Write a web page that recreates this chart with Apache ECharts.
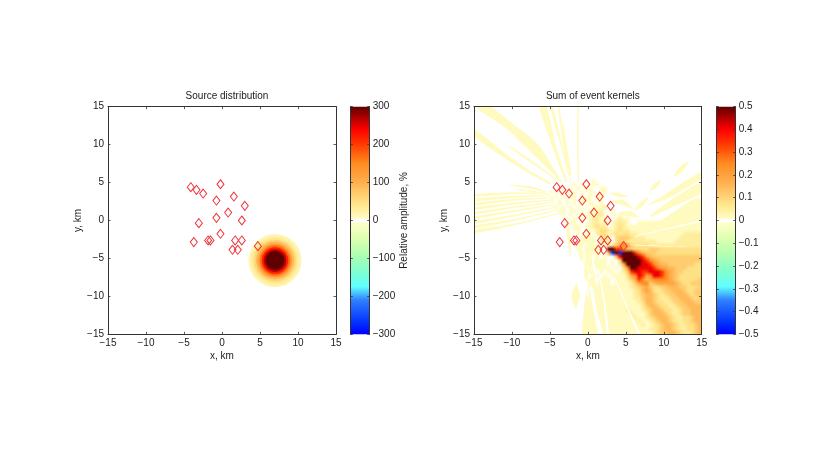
<!DOCTYPE html>
<html>
<head>
<meta charset="utf-8">
<style>
  html, body { margin: 0; background: #fff; }
  #chart { width: 830px; height: 458px; filter: blur(0.35px); }
</style>
<script src="https://cdn.jsdelivr.net/npm/echarts@6/dist/echarts.min.js"></script>
</head>
<body>
<div id="chart"></div>
<script>
const event_x = [-4.11, -3.36, -2.48, -0.2, -0.73, 1.56, 3.0, 0.81, -0.73, 2.61, -3.05, -0.2, -3.71, -1.83, -1.52, 1.73, 2.61, 1.38, 2.08, 4.72]
const event_y = [4.39, 4.04, 3.55, 4.78, 2.63, 3.16, 1.93, 1.05, 0.35, 0, -0.35, -1.75, -2.85, -2.63, -2.63, -2.63, -2.63, -3.86, -3.86, -3.38]

const source_centre = [6.98, -5.28]
const source_radii = [3.5, 3.25, 3, 2.75, 2.5, 2.25, 2, 1.75, 1.5, 1.25]
const source_values = [15, 25, 40, 62, 90, 125, 170, 220, 265, 300]

// cell codes for the kernel map
const kernel_levels = { a: 0.012, b: 0.05, c: 0.08, d: 0.115, e: 0.15, f: 0.19, g: 0.25, h: 0.34, i: 0.41, j: 0.5, n: -0.03, z: -0.45 }

// kernel map, 0.5 km cells, first row is y = 14.75, first column x = -14.75
// spaces only keep the columns readable, dots are empty cells
const kernel_rows = [
  '.......... .......... .......... .......... .......... ..........',
  '.......... .......... .......... .......... .......... ..........',
  '.......... .......... .......... .......... .......... ..........',
  '.......... .......... .......... .......... .......... ..........',
  '.......... .......... .......... .......... .......... ..........',
  '.......... .......... .......... .......... .......... ..........',
  '.......... .......... .......... .......... .......... ..........',
  '.......... .......... .......... .......... .......... ..........',
  '.......... .......... .......... .......... .......... ..........',
  '.......... .......... .......... .......... .......... ..........',
  '.......... .......... .......... .......... .......... ..........',
  '.......... .......... .......... .......... .......... ..........',
  '.......... .......... .......... .......... .......... ..........',
  '.......... .......... .......... .......... .......... ..........',
  '.......... .......... .......... .......... .......... ..........',
  '.......... .......... .......... .......... .......... ..........',
  '.......... .......... .......... .......... .......... ..........',
  '.......... .......... .......... .......... .......... ..........',
  '.......... .......... .......... .......... .......... ..........',
  '.......... .......... .......... .a........ .......... ..........',
  '.......... .......... ......a.a. .aa....... .......... ..........',
  '.......... .......... ...a.a.a.a a..aa..... .......... ..........',
  '.......... .......... a.a.a.a.a. aa.aa..... .......... ..........',
  '.......... .......... .a.a.aa.a. a.aa...... .......... ..........',
  '.......... .......... a.a.a.a.aa a.aa...... .......... ..........',
  '.......... .......... ..a.a.a.a. aa.a...... .......... ..........',
  '.......... .......... .a.a.a.a.a .aaab..... .......... ..........',
  '.......... .......... ..aa.aa.a. aaab..a... .......... ..........',
  '.......... .......... ...a.a.a.a aabba.a.a. .......... ..........',
  '.......... .......... ....a.a.a. abbaa..aba a......... ..........',
  '.......... .......... .....aa.a. abbab.abbb a..aaaaaaa aaaaaaaaaa',
  '.......... .......... ......aa.n nbcbb.abcb aaaaaaaaaa aaaaaaaaaa',
  '.......... .......... ......aa.. nabccbabcb baaaaaaaaa aaaaaaaaaa',
  '.......... .......... .......a.a n.bccabcbc cbbaaaaaaa aaaaabbbbb',
  '.......... .......... ........aa an.bcb.cdd dcbbbaaaaa aaaabbbbbb',
  '.......... .......... ........aa an.bbb.cdd cbbbbbbbaa aaabbbbbbb',
  '.......... .......... .......aa. nan.aacdfg fdccccbbbb bbbbbbbbbb',
  '.......... .......... .......a.a nana.jjhhe edccccdddc cccccccccc',
  '.......... .......... ........a. anan.fzjzj jjhgedddcc cccccccccc',
  '.......... .......... ........a. a.a.a..eij jjjihfeddd dddddddddd',
  '.......... .......... .........a aaana.a.dj jjjjihgfed dddddddddd',
  '.......... .......... .........a aanaa.a.bf jjjjiihgfe edddddddcc',
  '.......... .......... .......... a.anaa.a.c gjjiiiihgf feedddcccc',
  '.......... .......... .......... aa.a.aa.ab dhiihhiiih gfeddccccc',
  '.......... .......... .......... .aa.a.aaaa cfgihfgiih gfedcccccc',
  '.......... .......... .......... aa.aaa.aaa bdfhgefggg gfedcccccd',
  '.......... .......... .......... aaaaaa.aaa abdfggdeff fffedccddd',
  '.......... .......... .......... aaaaaaaaaa abcdefdccd deeeddcccd',
  '.......... .......... .......... aaaaaaaaaa aabcefecbc ddeeedccdd',
  '.......... .......... .......... aaaaaaaaaa aabcdeedcb cddeeedcdd',
  '.......... .......... .......... aaaaaaaaaa aabbdeedcb bcddeeedcd',
  '.......... .......... .......... aaaaaaaaaa aaabceedcc bbcddeeedd',
  '.......... .......... .......... aaaaaaaaaa aaaabdeedc cbbcddeeee',
  '.......... .......... .......... aaaaaaaaaa baaabcdeed ccbbcddeee',
  '.......... .......... .......... aaaaaaaaaa abaaabdeee dcbbcddeee',
  '.......... .......... .......... aaaaaaaaaa aabaabcdee edcbbccdee',
  '.......... .......... .......... aaaaaaaaaa aaabaabcde edcbbccdee',
  '.......... .......... .......... aaaaaaaaaa aaaabaabcd eedcbbccde',
  '.......... .......... .......... aaaaaaaaaa aaaaaabbcd eedcbbccde',
  '.......... .......... .......... aaaaaaaaaa aaaaaaabcd deedcbbcde'
]

// pale streaks of the kernel, each a run of [x, y, width] in km
const pale_streaks = [
  [[-14.3, 15.3, 1.1], [-10.5, 12.6, 1.0], [-7.2, 9.7, 1.4], [-4.8, 6.8, 0.6], [-3.5, 5, 0.15]],
  [[-15.3, 11.8, 0.7], [-11, 8.6, 0.6], [-8, 6.6, 0.4], [-5, 4.9, 0.25]],
  [[-10.5, 9.9, 0.08], [-8.5, 8.5, 0.3], [-5, 6, 0.2], [-3.8, 5, 0.08]],
  [[-6, 15.3, 0.9], [-4.5, 10, 0.5], [-2.8, 5, 0.2]],
  [[-4.9, 15.3, 0.35], [-3.5, 10, 0.25], [-2.5, 6, 0.15]],
  [[-3.9, 15.3, 0.2], [-3, 9, 0.2], [-2.2, 5, 0.1]],
  [[-3.3, 13, 0.1], [-2.8, 9, 0.3], [-2.2, 6, 0.15]],
  [[-1.3, 15.3, 0.15], [-1.3, 7, 0.2], [-1.2, 5, 0.1]],
  [[-15.3, 3.3, 0.3], [-10, 3.6, 0.25], [-6, 3.6, 0.12]],
  [[-15.3, 2.7, 0.3], [-10, 3.1, 0.25], [-5.6, 3.3, 0.12]],
  [[-15.3, 2.1, 0.3], [-10, 2.7, 0.25], [-5.2, 3, 0.12]],
  [[-15.3, 1.5, 0.3], [-10, 2.2, 0.25], [-4.8, 2.7, 0.12]],
  [[-15.3, 0.9, 0.3], [-10, 1.7, 0.25], [-4.5, 2.4, 0.12]],
  [[-15.3, 0.3, 0.3], [-10, 1.2, 0.25], [-4.3, 2.1, 0.12]],
  [[-15.3, -0.3, 0.3], [-10, 0.6, 0.25], [-4, 1.8, 0.12]],
  [[-15.3, -0.9, 0.3], [-10, 0, 0.25], [-3.8, 1.4, 0.12]],
  [[-15.3, -1.5, 0.4], [-10, -0.6, 0.25], [-3.5, 1, 0.12]],
  [[-10.3, 4.7, 0.1], [-8, 4.4, 0.25], [-5.5, 3.8, 0.1]],
  [[-9.5, 4.1, 0.1], [-7, 3.8, 0.2], [-5, 3.4, 0.08]],
  [[-8, 4.6, 0.08], [-6, 3.9, 0.2], [-4.5, 2.8, 0.08]],
  [[13.3, 7.8, 0.1], [12.3, 6.8, 0.7], [11.3, 5.7, 0.1]],
  [[9.6, 5.3, 0.1], [8.9, 4.6, 0.6], [8.2, 3.9, 0.1]],
  [[8, 2.1, 0.1], [10, 3, 0.6], [12, 4.2, 0.8], [15.3, 6.2, 0.7]],
  [[8.2, 0.5, 0.2], [11, 2.2, 0.9], [15.3, 4.5, 1.2]],
  [[6, -1.5, 0.2], [10, -0.5, 1.4], [15.3, 1.6, 3]],
  [[3, 3.6, 0.1], [4, 3.4, 0.5], [5.3, 3.1, 0.1]],
  [[6.2, 1.4, 0.1], [7, 2.1, 0.6], [8, 3.1, 0.1]],
  [[3, 2.5, 0.1], [4.5, 2.4, 0.7], [6, 1.5, 0.1]],
  [[4, 0.8, 0.3], [5.5, 0.9, 0.7], [6.8, 0.4, 0.1]],
  [[-1.5, -8.3, 0.1], [-1.6, -10, 1.1], [-1.6, -11.6, 0.1]],
  [[-0.2, -9.6, 0.1], [-0.1, -12, 0.9], [-0.2, -15.3, 1]],
  [[-0.3, -5.6, 0.1], [-0.2, -7, 0.6], [-0.2, -8, 0.1]],
  [[-2.7, 0, 0.2], [-2.5, -2, 0.5], [-2.3, -4.7, 0.1]],
  [[-1, -2.6, 0.1], [-1, -4, 0.5], [-0.9, -5.4, 0.1]],
  [[-0.2, -3, 0.1], [-0.1, -4.5, 0.4], [0, -6, 0.1]]
]
const pale_level = 0.012

// white seams over the map, same form
const white_streaks = [
  [[6.2, -2.1, 0.08], [10, -1.2, 0.12], [15.3, 0, 0.16]],
  [[5.5, -3.2, 0.05], [10, -3.4, 0.08], [13, -3.5, 0.05]],
  [[0.4, -8.7, 0.35], [1, -12, 0.4], [1.8, -15.3, 0.5]],
  [[1.5, -7, 0.12], [2.2, -11, 0.2], [2.7, -15.3, 0.25]],
  [[3.5, -7.5, 0.1], [5, -11, 0.15], [6.9, -15.3, 0.2]],
  [[0.6, -5, 0.2], [1, -7, 0.18], [1.2, -8.5, 0.12]]
]

const tick_step = 5
const source_tick_step = 100
const kernel_tick_step = 0.1

// colour map, position from -1 to 1 and colour
const colour_pos = [-1, -0.9, -0.7, -0.58, -0.45, -0.3, -0.15, -0.02, -0.012, 0.012, 0.02, 0.15, 0.33, 0.5, 0.67, 0.8, 0.9, 1]
const colour_hex = ['#0000ff', '#0030ff', '#3080ff', '#60ffff', '#80ffd0', '#b0ffb0', '#e0ffb0', '#ffffc8', '#ffffff', '#ffffff', '#fffcc2', '#ffe488', '#ffb050', '#ff8c20', '#ff3a00', '#ff0000', '#b00000', '#600000']

function rgb(hex) {
  return [1, 3, 5].map(i => parseInt(hex.slice(i, i + 2), 16))
}

function colourAt(t) {
  t = Math.max(-1, Math.min(1, t))
  let i = 0
  while (i < colour_pos.length - 2 && t > colour_pos[i + 1]) i++
  const f = (t - colour_pos[i]) / (colour_pos[i + 1] - colour_pos[i])
  const a = rgb(colour_hex[i])
  const b = rgb(colour_hex[i + 1])
  return 'rgb(' + a.map((v, k) => Math.round(v + (b[k] - v) * f)).join(',') + ')'
}

// the map goes into a small raster, one pixel per cell, drawn between axis values
const kernel_raster = document.createElement('canvas')
kernel_raster.width = 60
kernel_raster.height = 60
const raster_ctx = kernel_raster.getContext('2d')
kernel_rows.forEach((row, r) => {
  row.replace(/ /g, '').split('').forEach((code, c) => {
    if (kernel_levels[code] === undefined) return
    raster_ctx.fillStyle = colourAt(kernel_levels[code] / 0.5)
    raster_ctx.fillRect(c, r, 1, 1)
  })
})

const axis_colour = '#333'
const text_colour = '#222'
const font = 'Liberation Sans'
const labelStyle = { color: text_colour, fontFamily: font, fontSize: 10, margin: 4 }
const minus = v => String(v).replace('-', '\u2212')

// one boxed cartesian panel: real axes bottom/left, bare copies top/right
function valueAxis(pos, grid, min, max, step, labelled, name, extra, margin) {
  return Object.assign({
    type: 'value', gridIndex: grid, position: pos, min: min, max: max, interval: step, z: 4,
    splitLine: { show: false },
    axisLine: { show: true, onZero: false, lineStyle: { color: axis_colour, width: 1 } },
    axisTick: { show: true, inside: true, length: 2.5, lineStyle: { color: axis_colour, width: 0.8 } },
    axisLabel: Object.assign({ show: labelled, formatter: minus }, labelStyle, margin ? { margin: margin } : {}),
    name: name, nameLocation: 'middle',
    nameTextStyle: { color: text_colour, fontFamily: font, fontSize: 10 }
  }, extra || {})
}

const panel_top = 106.7
const panel_h = 227.6
const panels = [
  { left: 108, w: 228, title: 'Source distribution' },
  { left: 474, w: 227.7, title: 'Sum of event kernels' }
]
const bars = [
  { left: 350.3, max: 300, step: source_tick_step, name: 'Relative amplitude, %' },
  { left: 716.3, max: 0.5, step: kernel_tick_step, name: '' }
]

const grids = []
const xAxes = []
const yAxes = []
const titles = []
panels.forEach((p, i) => {
  grids.push({ left: p.left, top: panel_top, width: p.w, height: panel_h })
  xAxes.push(valueAxis('bottom', i, -15, 15, tick_step, true, 'x, km', { nameGap: 17 }))
  xAxes.push(valueAxis('top', i, -15, 15, tick_step, false, ''))
  yAxes.push(valueAxis('left', i, -15, 15, tick_step, true, 'y, km', { nameGap: 19, nameRotate: 90 }))
  yAxes.push(valueAxis('right', i, -15, 15, tick_step, false, ''))
  titles.push({
    text: p.title, left: p.left + p.w / 2, top: 86, textAlign: 'center',
    textStyle: { color: text_colour, fontFamily: font, fontSize: 10, fontWeight: 'normal' }
  })
})
bars.forEach((b, i) => {
  const g = i + 2
  grids.push({ left: b.left, top: panel_top, width: 19.4, height: panel_h })
  xAxes.push({ type: 'value', gridIndex: g, position: 'bottom', min: 0, max: 1, show: false })
  xAxes.push({ type: 'value', gridIndex: g, position: 'top', min: 0, max: 1, show: false })
  yAxes.push(valueAxis('right', g, -b.max, b.max, b.step, true, b.name, { nameGap: 24, nameRotate: 90 }, 3))
  yAxes.push(valueAxis('left', g, -b.max, b.max, b.step, false, ''))
})

function renderSource(params, api) {
  const c = api.coord([api.value(0), api.value(1)])
  const r = api.size([api.value(2), 0])[0]
  return { type: 'circle', shape: { cx: c[0], cy: c[1], r: r }, style: { fill: colourAt(api.value(3) / 300) } }
}

function renderKernel(params, api) {
  const a = api.coord([api.value(0), api.value(1)])
  const b = api.coord([api.value(2), api.value(3)])
  return { type: 'image', style: { image: kernel_raster, x: a[0], y: a[1], width: b[0] - a[0], height: b[1] - a[1] } }
}

// turn a run of [x, y, width] into a tapered polygon through the axis scales
function streakShape(run, api, fill) {
  const pts = run.map(p => api.coord([p[0], p[1]]))
  const left = []
  const right = []
  run.forEach((p, i) => {
    const a = pts[Math.max(i - 1, 0)]
    const b = pts[Math.min(i + 1, pts.length - 1)]
    const len = Math.hypot(b[0] - a[0], b[1] - a[1])
    const half = api.size([p[2], 0])[0] / 2
    const nx = -(b[1] - a[1]) / len * half
    const ny = (b[0] - a[0]) / len * half
    left.push([pts[i][0] + nx, pts[i][1] + ny])
    right.unshift([pts[i][0] - nx, pts[i][1] - ny])
  })
  return { type: 'polygon', shape: { points: left.concat(right), smooth: 0.3 }, style: { fill: fill } }
}

function renderPale(params, api) {
  return streakShape(pale_streaks[params.dataIndex], api, colourAt(pale_level / 0.5))
}

function renderWhite(params, api) {
  return streakShape(white_streaks[params.dataIndex], api, '#fff')
}

function renderBar(params, api) {
  const a = api.coord([0, api.value(1)])
  const b = api.coord([1, api.value(0)])
  const stops = colour_pos.map((p, i) => ({ offset: (p + 1) / 2, color: colour_hex[i] }))
  return {
    type: 'rect', shape: { x: a[0], y: a[1], width: b[0] - a[0], height: b[1] - a[1] },
    style: { fill: new echarts.graphic.LinearGradient(0, 1, 0, 0, stops) }
  }
}

function eventSeries(axis) {
  return {
    type: 'scatter', xAxisIndex: axis, yAxisIndex: axis, z: 5,
    symbol: 'diamond', symbolSize: [7, 9],
    itemStyle: { color: 'transparent', borderColor: '#f03038', borderWidth: 1, opacity: 1 },
    data: event_x.map((x, i) => [x, event_y[i]])
  }
}

const option = {
  animation: false,
  backgroundColor: '#fff',
  title: titles,
  grid: grids,
  xAxis: xAxes,
  yAxis: yAxes,
  series: [
    {
      type: 'custom', xAxisIndex: 0, yAxisIndex: 0, clip: true, renderItem: renderSource,
      data: source_radii.map((r, i) => [source_centre[0], source_centre[1], r, source_values[i]])
    },
    eventSeries(0),
    { type: 'custom', xAxisIndex: 2, yAxisIndex: 2, clip: true, z: 1, renderItem: renderPale, data: pale_streaks.map((s, i) => [s[0][0], s[0][1]]) },
    { type: 'custom', xAxisIndex: 2, yAxisIndex: 2, clip: true, z: 2, renderItem: renderKernel, data: [[-15, 15, 15, -15]] },
    { type: 'custom', xAxisIndex: 2, yAxisIndex: 2, clip: true, z: 3, renderItem: renderWhite, data: white_streaks.map((s, i) => [s[0][0], s[0][1]]) },
    eventSeries(2),
    { type: 'custom', xAxisIndex: 4, yAxisIndex: 4, renderItem: renderBar, data: [[-300, 300]] },
    { type: 'custom', xAxisIndex: 6, yAxisIndex: 6, renderItem: renderBar, data: [[-0.5, 0.5]] }
  ]
}

const chart = echarts.init(document.getElementById('chart'), null, { renderer: 'canvas' })
chart.setOption(option)
</script>
</body>
</html>
